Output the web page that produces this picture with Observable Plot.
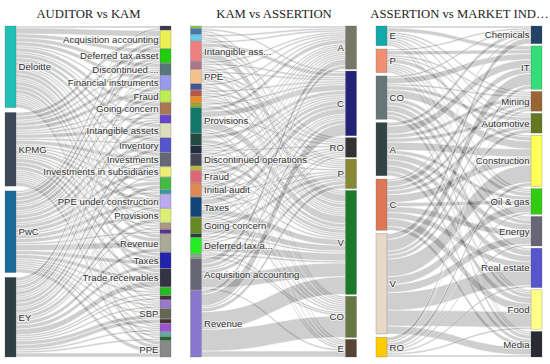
<!DOCTYPE html>
<html><head><meta charset="utf-8">
<script src="https://cdn.jsdelivr.net/npm/d3@7"></script>
<script src="https://cdn.jsdelivr.net/npm/@observablehq/plot@0.6"></script>
<style>
body{margin:0;background:#fff;}
g[aria-label="fx-axis tick label"] text{font-family:"Liberation Serif","Times New Roman",serif;font-size:12.7px;fill:#222;}
</style>
</head><body><div id="chart"></div>
<script>
const panels = ["AUDITOR vs KAM", "KAM vs ASSERTION", "ASSERTION vs MARKET IND…"];

// ---------- Panel 1: AUDITOR vs KAM ----------
const auditors = ["Deloitte", "KPMG", "PwC", "EY"];
const kams1 = ["Other a", "Acquisition accounting", "Deferred tax asset", "Discontinued ...", "Financial instruments",
  "Fraud", "Going concern", "Other b", "Intangible assets", "Inventory", "Investments", "Investments in subsidiaries",
  "Other c", "Other d", "PPE under construction", "Provisions", "Other e", "Other f", "Revenue", "Taxes",
  "Trade receivables", "Other g", "Other h", "Other i", "SBP", "Other j", "Other k", "Other l", "Other m", "PPE"];
const kams1Shown = ["Acquisition accounting", "Deferred tax asset", "Discontinued ...", "Financial instruments", "Fraud",
  "Going concern", "Intangible assets", "Inventory", "Investments", "Investments in subsidiaries",
  "PPE under construction", "Provisions", "Revenue", "Taxes", "Trade receivables", "SBP", "PPE"];
const deloitte = [1,3,2,2,2,1,2,1,2,2,2,1,1,0,2,2,1,1,2,2,2,1,0,1,1,0,1,0,1,2];
const kpmg     = [0,2,2,1,2,2,1,1,2,1,2,1,1,1,2,1,1,0,2,2,2,1,1,1,1,0,1,1,0,2];
const pwc      = [1,2,2,2,1,2,1,1,2,2,1,2,2,1,2,2,0,1,3,2,2,1,0,1,1,0,1,1,0,2];
const ey       = [0,2,1,1,2,1,2,1,1,2,2,1,2,0,1,2,1,0,2,2,3,1,1,1,2,2,1,0,1,2];

// ---------- Panel 2: KAM vs ASSERTION ----------
const kams2 = ["Other a", "Other b", "Other c", "Intangible ass...", "Other d", "PPE", "Other e", "Other f", "Other g",
  "Other h", "Provisions", "Other i", "Other j", "Discontinued operations", "Other k", "Fraud", "Initial audit",
  "Taxes", "Going concern", "Other l", "Deferred tax a...", "Other m", "Acquisition accounting", "Revenue"];
const kams2Shown = ["Intangible ass...", "PPE", "Provisions", "Discontinued operations", "Fraud", "Initial audit",
  "Taxes", "Going concern", "Deferred tax a...", "Acquisition accounting", "Revenue"];
const assertions2 = ["A", "C", "RO", "P", "V", "CO", "E"];
const assertA  = [1,0,1,1,1,1,1,0,1,0,2,1,1,1,0,1,1,1,1,0,1,0,3,2];
const assertC  = [0,1,0,2,1,1,0,1,0,1,3,2,1,1,1,2,2,3,1,1,1,0,2,6];
const assertRO = [0,0,0,1,0,1,0,1,0,0,1,0,1,0,0,0,1,1,1,0,0,0,1,1];
const assertP  = [0,0,1,1,0,1,0,0,1,0,1,0,0,1,0,0,1,1,2,0,1,0,2,2];
const assertV  = [0,1,1,4,1,2,1,1,1,1,4,2,1,2,1,1,1,3,3,1,4,1,7,9];
const assertCO = [0,0,0,1,1,0,1,0,0,0,1,1,0,0,0,1,1,1,0,0,1,1,0,11];
const assertE  = [0,1,0,0,0,1,0,0,0,0,1,0,0,1,0,1,0,0,0,0,0,0,1,3];

// ---------- Panel 3: ASSERTION vs MARKET INDUSTRY ----------
const assertions3 = ["E", "P", "CO", "A", "C", "V", "RO"];
const industries = ["Chemicals", "IT", "Mining", "Automotive", "Construction", "Oil & gas", "Energy", "Real estate", "Food", "Media"];
const indE  = [1,2,1,1,1,1,1,0,1,1];
const indP  = [1,2,1,1,2,1,1,1,1,1];
const indCO = [1,3,1,2,4,2,2,3,2,2];
const indA  = [2,4,2,2,4,2,3,3,3,2];
const indC  = [1,3,2,2,4,2,3,3,4,2];
const indV  = [3,6,2,2,9,4,4,9,8,4];
const indRO = [0,2,1,0,2,1,1,1,1,1];

// ---------- styles ----------
const colors1L = ["#20c0b5","#3d4858","#1a6a9a","#2f4045"];
const colors1R = ["#3b3b50","#eeee55","#22cc11","#557777","#9999ee","#bbee55","#aa7755","#6644cc","#ddddbb","#5555cc",
  "#666677","#eeee77","#44bb44","#339999","#bbaaee","#ddee77","#aa9988","#553388","#aaaa99","#2222aa",
  "#333344","#22bb22","#443344","#9977cc","#666655","#443333","#9955cc","#66aaaa","#226633","#888888"];
const colors2L = ["#99cc44","#4477aa","#66ccee","#f08080","#aa7788","#f5c08a","#445599","#bb5544","#ee8822","#99aa22",
  "#117766","#224a40","#1e2e40","#444455","#bbbb33","#dd6677","#dd8855","#114477","#668822","#224433",
  "#22ee22","#88aa88","#666677","#8877cc"];
const colors2R = ["#777766","#222277","#333333","#888833","#1a7a2a","#667744","#554433"];
const colors3L = ["#11aaaa","#f09070","#667777","#334444","#dd7755","#e8d8c8","#ffcc00"];
const colors3R = ["#224466","#33dd77","#996633","#667722","#ffff55","#33cc11","#666677","#5555cc","#ffff88","#2a2a33"];

const H = 331, W = 166, NW = 11;

function sankey(panel, L, Lshown, Lcol, R, Rshown, Rcol, M, pad) {
  const lv = M.map(r => d3.sum(r));
  const rv = R.map((_, j) => d3.sum(M, r => r[j]));
  const S = d3.sum(lv);
  const ky = Math.min((H - (L.length - 1) * pad) / S, (H - (R.length - 1) * pad) / S);
  const col = (names, vals, shown, colors, side) => {
    const gap = names.length > 1 ? (H - S * ky) / (names.length - 1) : 0;
    let y = 0;
    return names.map((n, i) => {
      const node = {panel, side, name: n, label: shown.includes(n) ? n : "", color: colors[i], y0: y, y1: y + vals[i] * ky};
      y = node.y1 + gap;
      return node;
    });
  };
  const ln = col(L, lv, Lshown, Lcol, 0), rn = col(R, rv, Rshown, Rcol, 1);
  const so = ln.map(d => d.y0), to = rn.map(d => d.y0);
  const pts = [];
  const links = [];
  M.forEach((r, i) => r.forEach((v, j) => { if (v > 0) links.push({i, j, v}); }));
  const sOff = new Map(), tOff = new Map();
  links.slice().sort((a, b) => a.i - b.i || a.j - b.j).forEach(l => { sOff.set(l, so[l.i]); so[l.i] += l.v * ky; });
  links.slice().sort((a, b) => a.j - b.j || a.i - b.i).forEach(l => { tOff.set(l, to[l.j]); to[l.j] += l.v * ky; });
  links.forEach((l, k) => {
    const id = panel + "-" + k, t = l.v * ky;
    pts.push({panel, id, x: NW, ya: sOff.get(l), yb: sOff.get(l) + t});
    pts.push({panel, id, x: W - NW, ya: tOff.get(l), yb: tOff.get(l) + t});
  });
  return {nodes: ln.concat(rn), pts};
}

const M1 = [deloitte, kpmg, pwc, ey];
const M2 = kams2.map((_, i) => [assertA[i], assertC[i], assertRO[i], assertP[i], assertV[i], assertCO[i], assertE[i]]);
const M3 = [indE, indP, indCO, indA, indC, indV, indRO];

const p1 = sankey(panels[0], auditors, auditors, colors1L, kams1, kams1Shown, colors1R, M1, 0.5);
const p2 = sankey(panels[1], kams2, kams2Shown, colors2L, assertions2, assertions2, colors2R, M2, 0.5);
const p3 = sankey(panels[2], assertions3, assertions3, colors3L, industries, industries, colors3R, M3, 2.2);
const nodes = [...p1.nodes, ...p2.nodes, ...p3.nodes];
const pts = [...p1.pts, ...p2.pts, ...p3.pts];

const textOpts = {fx: "panel", y: d => (d.y0 + d.y1) / 2, text: "label", fontSize: 9.6,
  fill: "#333", stroke: "white", strokeWidth: 2, strokeOpacity: 0.6};

const chart = Plot.plot({
  width: 550, height: 364,
  marginLeft: 5, marginRight: 8, marginTop: 26, marginBottom: 7,
  style: {fontFamily: "'Liberation Sans', Arial, sans-serif", background: "#fff"},
  fx: {domain: panels, paddingInner: 0.105, paddingOuter: 0, round: false},
  x: {domain: [0, W], axis: null},
  y: {domain: [0, H], reverse: true, axis: null},
  color: {type: "identity"},
  marks: [
    Plot.axisFx({anchor: "top", tickSize: 0, tickPadding: 9, label: null, fontSize: 12.7}),
    Plot.area(pts, {fx: "panel", x1: "x", y1: "ya", y2: "yb", z: "id", curve: "bump-x",
      fill: "#000", fillOpacity: 0.19, stroke: "#fff", strokeWidth: 0.6, strokeOpacity: 0.8}),
    Plot.rect(nodes, {fx: "panel", x1: d => d.side ? W - NW : 0, x2: d => d.side ? W : NW, y1: "y0", y2: "y1",
      fill: "color", stroke: "#555", strokeWidth: 0.5, strokeOpacity: 0.5}),
    Plot.text(nodes.filter(d => d.label && !d.side), {...textOpts, x: NW + 2, textAnchor: "start"}),
    Plot.text(nodes.filter(d => d.label && d.side), {...textOpts, x: W - NW - 2, textAnchor: "end"})
  ]
});
document.getElementById("chart").appendChild(chart);
</script>
</body></html>
